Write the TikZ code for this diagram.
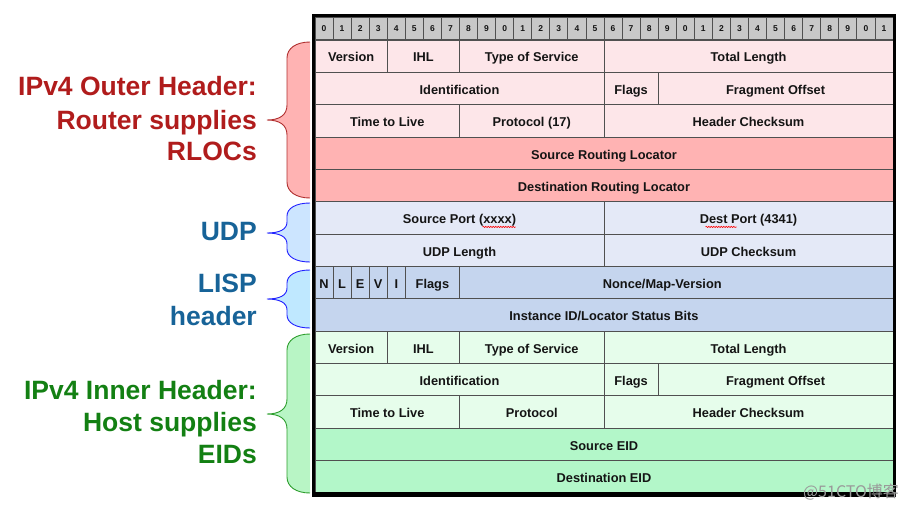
\documentclass[tikz,border=0pt]{standalone}
\usepackage{fontspec}
\setmainfont{Liberation Sans}
\newfontfamily\cjkfont{Noto Sans CJK SC}
\usetikzlibrary{decorations.pathmorphing,calc}
\definecolor{pinkL}{HTML}{FDE6E9}
\definecolor{salmon}{HTML}{FFB3B3}
\definecolor{udpc}{HTML}{E4E9F7}
\definecolor{lispc}{HTML}{C5D5EE}
\definecolor{greenL}{HTML}{E6FDEB}
\definecolor{greenD}{HTML}{B3F7C9}
\definecolor{bitgray}{HTML}{C8C8C8}
\definecolor{linegray}{HTML}{505050}
\definecolor{celltext}{HTML}{141414}
\definecolor{redtxt}{HTML}{B01C1C}
\definecolor{bluetxt}{HTML}{176398}
\definecolor{greentxt}{HTML}{138013}
\definecolor{redbrace}{HTML}{B03030}
\definecolor{bluebrace}{HTML}{2020FF}
\definecolor{greenbrace}{HTML}{2E9E2E}
\definecolor{udpfill}{HTML}{CCE5FF}
\definecolor{lispfill}{HTML}{BFE8FF}
\definecolor{greenfill}{HTML}{B8F5C5}
\definecolor{wmgray}{HTML}{9A9A9A}

\newcommand\ipfield[6]{%
  \pgfmathsetmacro\fx{315+#2*18.0625}%
  \pgfmathsetmacro\fw{(#3-#2)*18.0625}%
  \pgfmathsetmacro\fy{40+(#4-1)*32.357}%
  \node[cell, fill=#5, minimum width=\fw pt] (#1) at (\fx,\fy) {#6};%
}
\newcommand\hdrbrace[7]{%
  \fill[#6] (310,#1) .. controls (296,#1) and (287,#1+#4*0.4) .. (287,#1+#4)
    -- (287,#3-#5) .. controls (287,#3-#5*0.3) and (279,#3) .. (267,#3)
    .. controls (279,#3) and (287,#3+#5*0.3) .. (287,#3+#5)
    -- (287,#2-#4) .. controls (287,#2-#4*0.4) and (296,#2) .. (310,#2) -- cycle;
  \draw[#7, line width=0.9pt] (310,#1) .. controls (296,#1) and (287,#1+#4*0.4) .. (287,#1+#4)
    -- (287,#3-#5) .. controls (287,#3-#5*0.3) and (279,#3) .. (267,#3)
    .. controls (279,#3) and (287,#3+#5*0.3) .. (287,#3+#5)
    -- (287,#2-#4) .. controls (287,#2-#4*0.4) and (296,#2) .. (310,#2);
}

\begin{document}
\begin{tikzpicture}[x=1pt,y=-1pt,
  cell/.style={draw=linegray, line width=0.9pt, inner sep=0pt, outer sep=0pt,
    font=\fontsize{12.8}{14}\selectfont\bfseries, text=celltext,
    text height=11.5pt, text depth=0pt,
    anchor=north west, minimum height=32.357pt},
  bitcell/.style={draw=linegray, line width=0.8pt, fill=bitgray, inner sep=0pt, outer sep=0pt,
    font=\fontsize{8.5}{9}\selectfont\bfseries, text=celltext, anchor=north west,
    text height=6pt, text depth=0pt,
    minimum width=18.0625pt, minimum height=22pt},
  lbl/.style={anchor=base east, inner sep=0pt, font=\fontsize{26.5}{30}\selectfont\bfseries},
  squig/.style={red, line width=0.6pt, decorate,
    decoration={snake, amplitude=0.6pt, segment length=2.5pt}}
]
\useasboundingbox (0,0) rectangle (910,512);

% bit numbering row
\foreach \k in {0,...,31} {
  \pgfmathtruncatemacro\d{mod(\k,10)}
  \node[bitcell] (b\k) at ({315+\k*18.0625},17) {\d};
}

% IPv4 outer header
\ipfield{over}{0}{4}{1}{pinkL}{Version}
\ipfield{oihl}{4}{8}{1}{pinkL}{IHL}
\ipfield{otos}{8}{16}{1}{pinkL}{Type of Service}
\ipfield{otlen}{16}{32}{1}{pinkL}{Total Length}
\ipfield{oid}{0}{16}{2}{pinkL}{Identification}
\ipfield{oflags}{16}{19}{2}{pinkL}{Flags}
\ipfield{ofrag}{19}{32}{2}{pinkL}{Fragment Offset}
\ipfield{ottl}{0}{8}{3}{pinkL}{Time to Live}
\ipfield{oproto}{8}{16}{3}{pinkL}{Protocol (17)}
\ipfield{ohcs}{16}{32}{3}{pinkL}{Header Checksum}
\ipfield{srloc}{0}{32}{4}{salmon}{Source Routing Locator}
\ipfield{drloc}{0}{32}{5}{salmon}{Destination Routing Locator}
% UDP
\ipfield{sport}{0}{16}{6}{udpc}{Source Port (xxxx)}
\ipfield{dport}{16}{32}{6}{udpc}{Dest Port (4341)}
\ipfield{ulen}{0}{16}{7}{udpc}{UDP Length}
\ipfield{ucs}{16}{32}{7}{udpc}{UDP Checksum}
% LISP
\ipfield{ln}{0}{1}{8}{lispc}{N}
\ipfield{ll}{1}{2}{8}{lispc}{L}
\ipfield{le}{2}{3}{8}{lispc}{E}
\ipfield{lv}{3}{4}{8}{lispc}{V}
\ipfield{li}{4}{5}{8}{lispc}{I}
\ipfield{lflags}{5}{8}{8}{lispc}{Flags}
\ipfield{nonce}{8}{32}{8}{lispc}{\hspace*{-28pt}Nonce/Map-Version}
\ipfield{iid}{0}{32}{9}{lispc}{Instance ID/Locator Status Bits}
% IPv4 inner header
\ipfield{iver}{0}{4}{10}{greenL}{Version}
\ipfield{iihl}{4}{8}{10}{greenL}{IHL}
\ipfield{itos}{8}{16}{10}{greenL}{Type of Service}
\ipfield{itlen}{16}{32}{10}{greenL}{Total Length}
\ipfield{iident}{0}{16}{11}{greenL}{Identification}
\ipfield{iflags}{16}{19}{11}{greenL}{Flags}
\ipfield{ifrag}{19}{32}{11}{greenL}{Fragment Offset}
\ipfield{ittl}{0}{8}{12}{greenL}{Time to Live}
\ipfield{iproto}{8}{16}{12}{greenL}{Protocol}
\ipfield{ihcs}{16}{32}{12}{greenL}{Header Checksum}
\ipfield{seid}{0}{32}{13}{greenD}{Source EID}
\ipfield{deid}{0}{32}{14}{greenD}{Destination EID}

% spell-check squiggles
\draw[squig] ($(sport.center)+(23,9)$) -- ($(sport.center)+(56,9)$);
\draw[squig] ($(dport.center)+(-43,9)$) -- ($(dport.center)+(-12,9)$);

% outer border
\draw[line width=3pt] (313.5,15.5) rectangle (894.5,494.5);
\draw[line width=5pt] (312,494.5) -- (896,494.5);

% braces
\hdrbrace{42}{198}{120}{16}{15}{salmon}{redbrace}
\hdrbrace{203}{262}{233}{13}{11}{udpfill}{bluebrace}
\hdrbrace{270}{328}{299}{13}{11}{lispfill}{bluebrace}
\hdrbrace{334}{493}{414}{16}{15}{greenfill}{greenbrace}

% labels
\node[lbl, text=redtxt] (o1) at (257,95) {IPv4 Outer Header:};
\node[lbl, text=redtxt] (o2) at (257,129) {Router supplies};
\node[lbl, text=redtxt] (o3) at (257,160) {RLOCs};
\node[lbl, text=bluetxt] (u1) at (257,240) {UDP};
\node[lbl, text=bluetxt] (l1) at (257,292) {LISP};
\node[lbl, text=bluetxt] (l2) at (257,325) {header};
\node[lbl, text=greentxt] (g1) at (257,399) {IPv4 Inner Header:};
\node[lbl, text=greentxt] (g2) at (257,431) {Host supplies};
\node[lbl, text=greentxt] (g3) at (257,463) {EIDs};

% watermark
\node[text=wmgray, font=\cjkfont\fontsize{16}{18}\selectfont] (wm) at (851,492) {@51CTO博客};
\end{tikzpicture}
\end{document}
